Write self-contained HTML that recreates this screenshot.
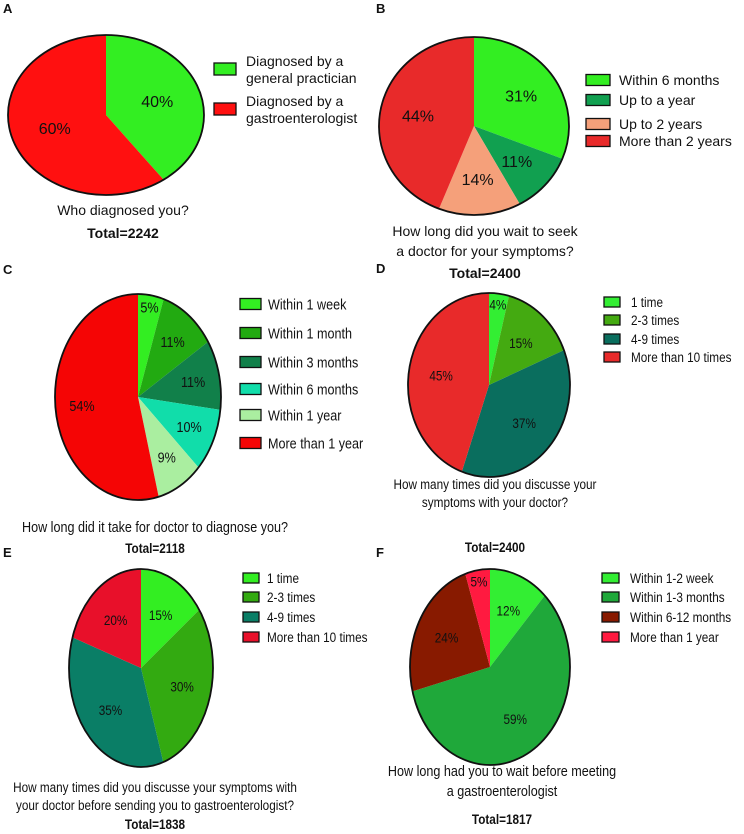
<!DOCTYPE html>
<html><head><meta charset="utf-8"><style>
html,body{margin:0;padding:0;background:#fff;}
svg{display:block;}
text{font-family:"Liberation Sans",Arial,sans-serif;fill:#111;}
</style></head><body>
<svg id="fig" width="744" height="834" viewBox="0 0 744 834" xmlns="http://www.w3.org/2000/svg"></svg>
<script>
// ---- Data ----
const aLabels=["Diagnosed by a general practician","Diagnosed by a gastroenterologist"];
const aValues=[40,60];
const bLabels=["Within 6 months","Up to a year","Up to 2 years","More than 2 years"];
const bValues=[31,11,14,44];
const cLabels=["Within 1 week","Within 1 month","Within 3 months","Within 6 months","Within 1 year","More than 1 year"];
const cValues=[5,11,11,10,9,54];
const dLabels=["1 time","2-3 times","4-9 times","More than 10 times"];
const dValues=[4,15,37,45];
const eLabels=["1 time","2-3 times","4-9 times","More than 10 times"];
const eValues=[15,30,35,20];
const fLabels=["Within 1-2 week","Within 1-3 months","Within 6-12 months","More than 1 year"];
const fValues=[12,59,24,5];

const NS="http://www.w3.org/2000/svg";
const svg=document.getElementById('fig');
function mk(tag,attrs,parent){const e=document.createElementNS(NS,tag);for(const k in attrs)e.setAttribute(k,attrs[k]);(parent||svg).appendChild(e);return e;}
function txt(s,x,y,size,opts,parent){
  opts=opts||{};
  const t=mk('text',{'font-size':size,'text-anchor':opts.anchor||'start'},parent);
  if(opts.cls==='n'){t.setAttribute('x',0);t.setAttribute('y',0);t.setAttribute('transform',`translate(${x},${y}) scale(0.84,1)`);}
  else{t.setAttribute('x',x);t.setAttribute('y',y);}
  if(opts.bold)t.setAttribute('font-weight','bold');
  t.textContent=s;return t;}

const charts=[
 {id:'a',letter:'A',lx:3,ly:13,values:aValues,labels:aLabels,colors:['#33ee22','#ff1010'],cx:106,cy:115,rx:98,ry:80,lf:0.55,pfs:16,cls:'',
  legend:{x:214,y:[69,109],bw:22,bh:12,tx:246,fs:14,dy:-6,two:true},
  q:["Who diagnosed you?"],qx:123,qy:[215],qfs:14,tot:"Total=2242",tx:123,ty:238},
 {id:'b',letter:'B',lx:376,ly:13,values:bValues,labels:bLabels,colors:['#33ee22','#11a050','#f5a07a','#e82a2a'],cx:474,cy:126,rx:95,ry:89,lf:0.6,pfs:16,cls:'',
  legend:{x:586,y:[80,100,124,141],bw:24,bh:11,tx:619,fs:14,dy:0},
  q:["How long did you wait to seek","a doctor for your symptoms?"],qx:485,qy:[236,256],qfs:14,tot:"Total=2400",tx:485,ty:278},
 {id:'c',letter:'C',lx:3,ly:274,values:cValues,labels:cLabels,colors:['#33ee22','#22aa11','#11804a','#11ddaa','#aaeea0','#f50505'],cx:138,cy:397,rx:83,ry:103,lf:0.68,pfs:15,cls:'n',
  legend:{x:240,y:[304,333,362,389,415,443],bw:21,bh:11,tx:268,fs:15,dy:0},
  q:["How long did it take for doctor to diagnose you?"],qx:155,qy:[532],qfs:15,tot:"Total=2118",tx:155,ty:553},
 {id:'d',letter:'D',lx:376,ly:273,values:dValues,labels:dLabels,colors:['#33ee33','#44aa11','#0a6e5e','#e82a2a'],cx:489,cy:385,rx:81,ry:92,lf:0.6,pfs:14,cls:'n',
  legend:{x:604,y:[302,320,339,357],bw:16,bh:10,tx:631,fs:14,dy:0},
  q:["How many times did you discusse your","symptoms with your doctor?"],qx:495,qy:[489,507],qfs:14,tot:"Total=2400",tx:495,ty:552},
 {id:'e',letter:'E',lx:3,ly:557,values:eValues,labels:eLabels,colors:['#33ee22','#33aa11','#0a7e66','#e8102a'],cx:141,cy:668,rx:72,ry:99,lf:0.6,pfs:14,cls:'n',
  legend:{x:243,y:[578,597,617,637],bw:16,bh:10,tx:267,fs:14,dy:0},
  q:["How many times did you discusse your symptoms with","your doctor before sending you to gastroenterologist?"],qx:155,qy:[792,810],qfs:14,tot:"Total=1838",tx:155,ty:829},
 {id:'f',letter:'F',lx:376,ly:557,values:fValues,labels:fLabels,colors:['#33ee33','#1fa83a','#881a00','#ff1a40'],cx:490,cy:667,rx:80,ry:98,lf:0.62,pfs:14,cls:'n',
  legend:{x:602,y:[578,597,617,637],bw:17,bh:10,tx:630,fs:14,dy:0},
  q:["How long had you  to wait before meeting","a gastroenterologist"],qx:502,qy:[776,796],qfs:15,tot:"Total=1817",tx:502,ty:824}
];

charts.forEach(c=>{
  const g=mk('g',{});
  
  
  const L=txt(c.letter,c.lx,c.ly,13,{bold:true},g);
  
  
  const total=c.values.reduce((s,v)=>s+v,0);
  let acc=0;
  const px=(a,f)=>c.cx+Math.sin(a)*c.rx*f, py=(a,f)=>c.cy-Math.cos(a)*c.ry*f;
  c.values.forEach((v,i)=>{
    const a0=acc/total*2*Math.PI; acc+=v; const a1=acc/total*2*Math.PI;
    const large=(a1-a0)>Math.PI?1:0;
    const d=`M${c.cx},${c.cy} L${px(a0,1)},${py(a0,1)} A${c.rx},${c.ry} 0 ${large} 1 ${px(a1,1)},${py(a1,1)} Z`;
    const p=mk('path',{d:d,fill:c.colors[i],stroke:'none'},g);
    
    
    const am=(a0+a1)/2;
    let f=c.lf; if(v<7) f=0.88;
    const t=txt(v+'%',px(am,f),py(am,f)+c.pfs*0.35,c.pfs,{anchor:'middle',cls:c.cls},g);
    
    
  });
  const o=mk('ellipse',{cx:c.cx,cy:c.cy,rx:c.rx,ry:c.ry,fill:'none',stroke:'#111','stroke-width':1.8},g);
  
  
  const lg=c.legend;
  c.labels.forEach((lab,i)=>{
    const y=lg.y[i];
    const r=mk('rect',{x:lg.x,y:y-lg.bh/2,width:lg.bw,height:lg.bh,fill:c.colors[i],stroke:'#111','stroke-width':1.3},g);
    
    
    if(lg.two){
      const parts=lab.split(' by a ');
      const t1=txt(parts[0]+' by a',lg.tx,y-3,lg.fs,{cls:c.cls},g);
      
      
      const t2=txt(parts[1],lg.tx,y+14,lg.fs,{cls:c.cls},g);
      
      
    } else {
      const t=txt(lab,lg.tx,y+lg.fs*0.36,lg.fs,{cls:c.cls},g);
      
      
    }
  });
  c.q.forEach((line,i)=>{
    const t=txt(line,c.qx,c.qy[i],c.qfs,{anchor:'middle',cls:c.cls},g);
    
    
  });
  const tt=txt(c.tot,c.tx,c.ty,14,{anchor:'middle',bold:true,cls:c.cls},g);
  
  
});
</script>
</body></html>
